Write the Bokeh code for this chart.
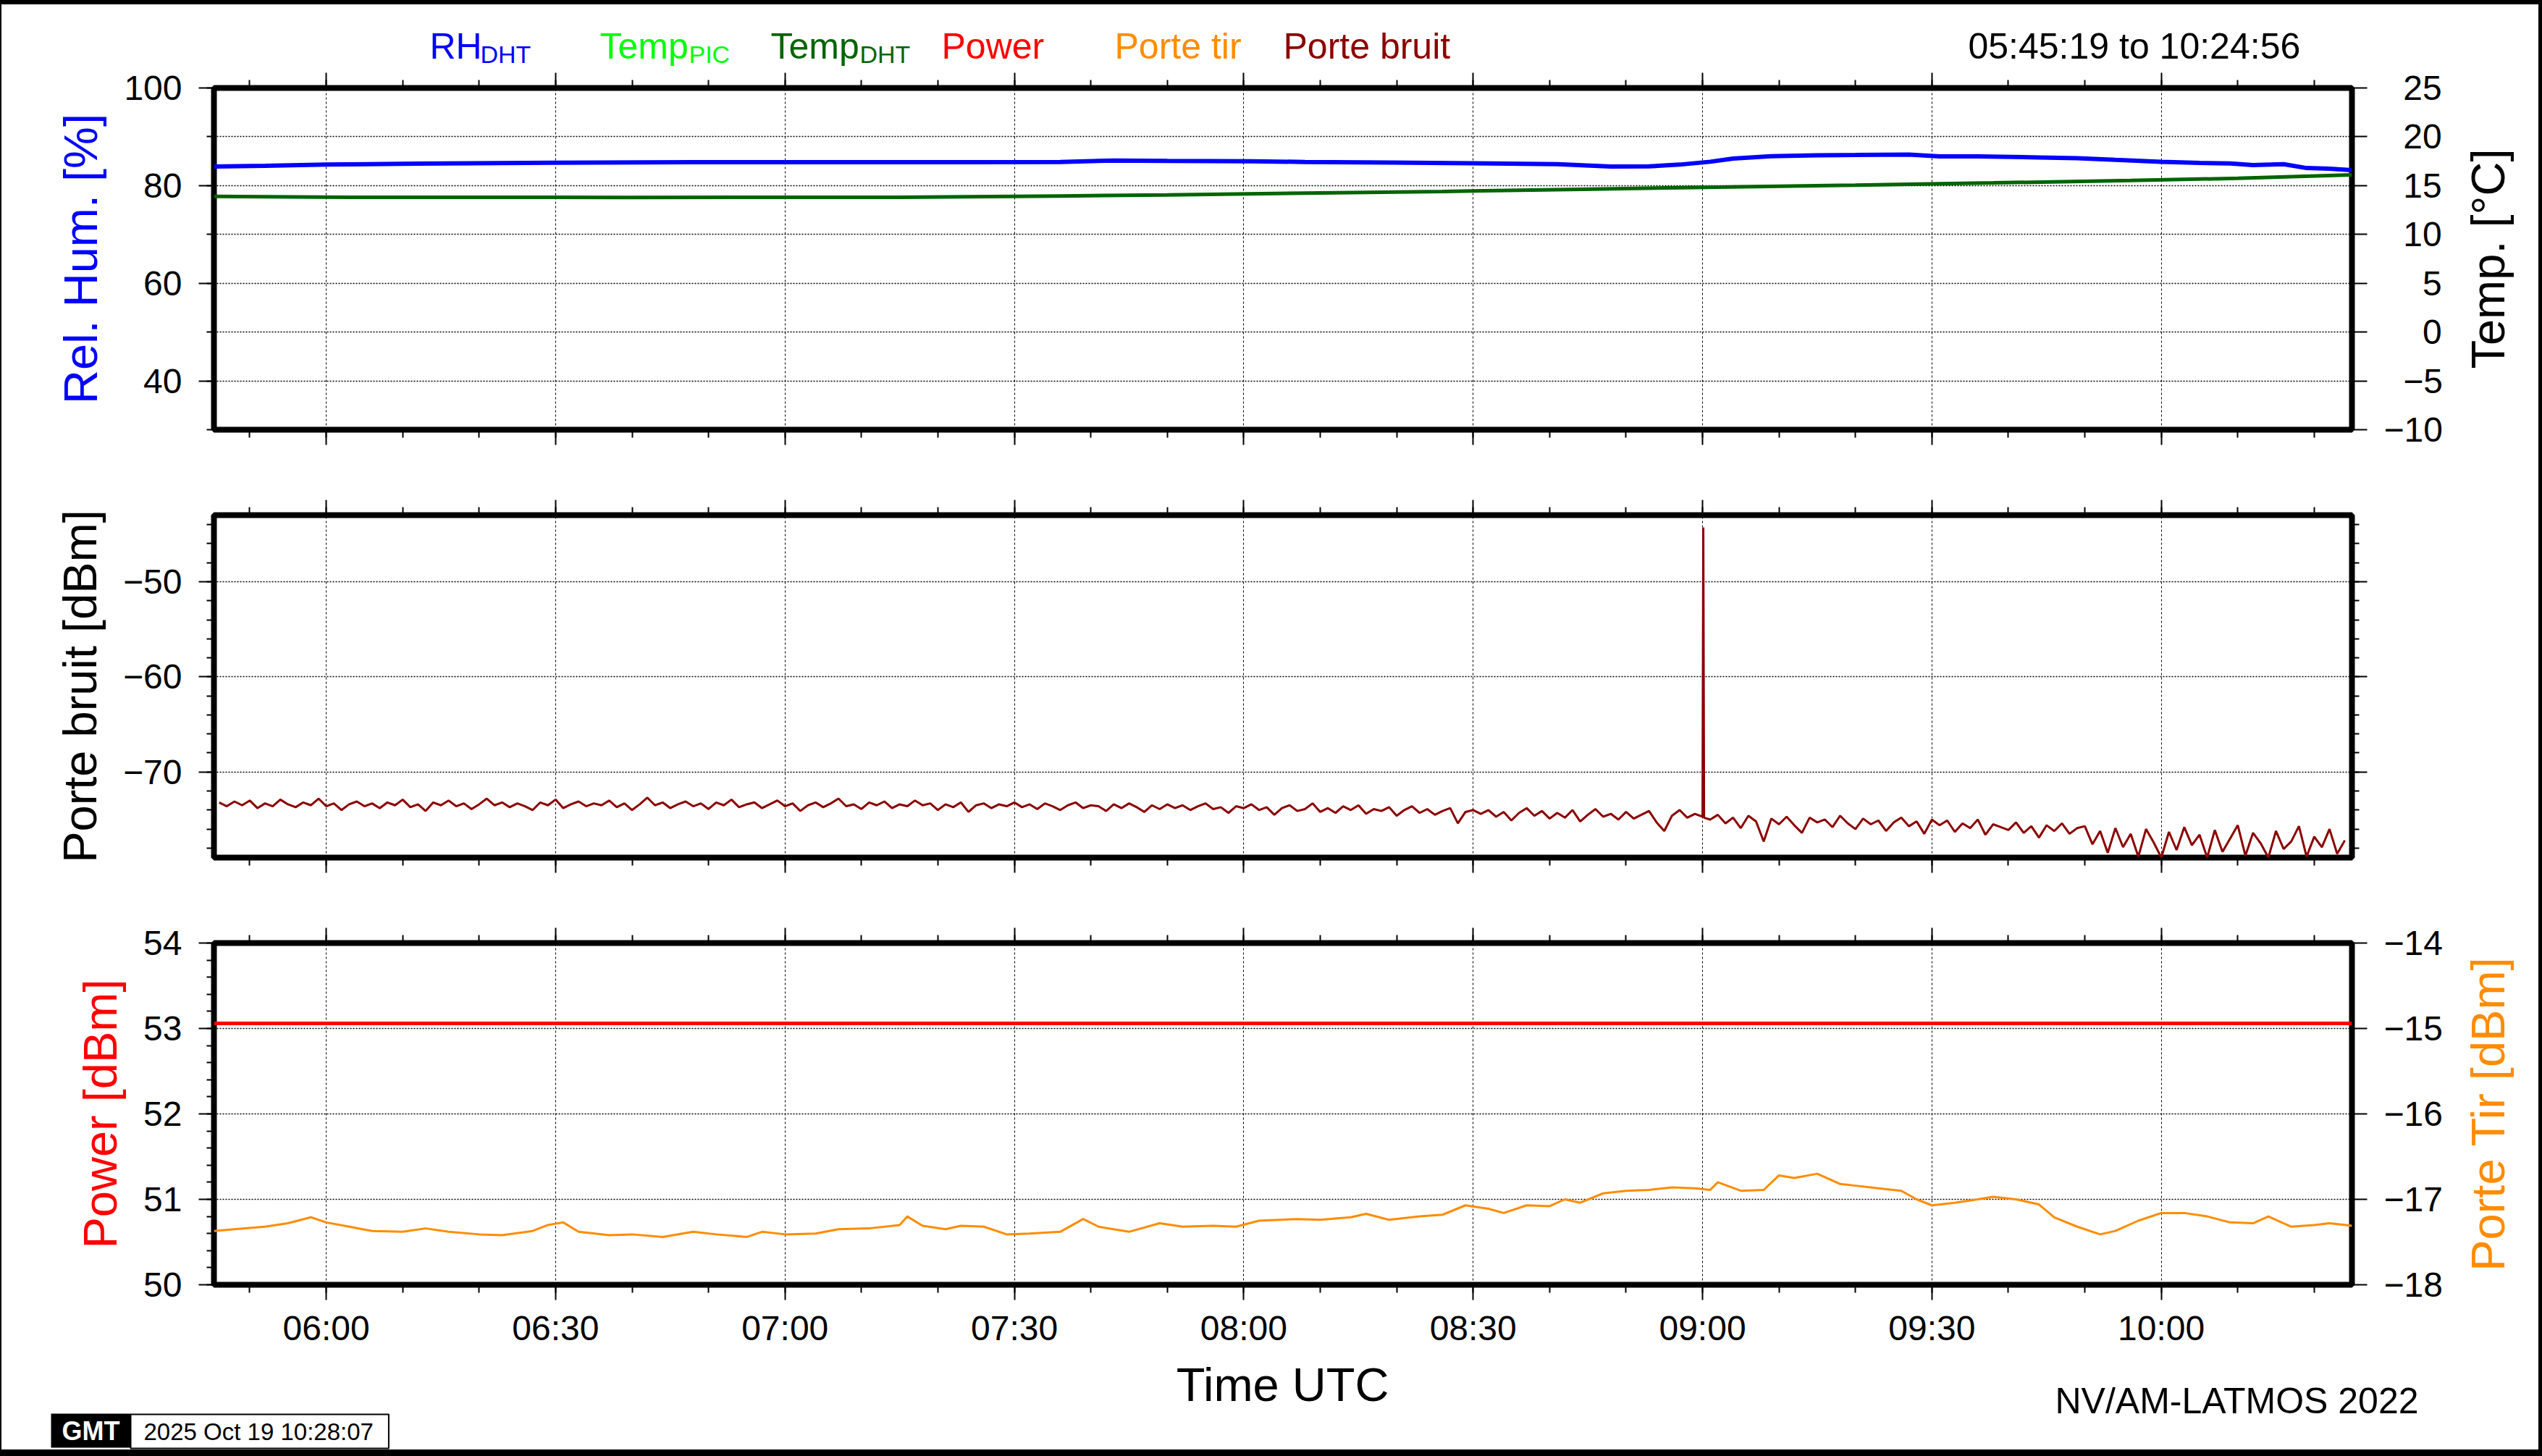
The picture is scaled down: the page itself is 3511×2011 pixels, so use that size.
import math
import pandas as pd
from bokeh.plotting import figure
from bokeh.layouts import column, row
from bokeh.models import (Range1d, LinearAxis, DatetimeAxis, FixedTicker,
                          SingleIntervalTicker, CustomJSTickFormatter,
                          DatetimeTickFormatter, Label, Spacer)
from bokeh.embed import file_html
from bokeh.resources import INLINE

# ---------------- data ----------------
DAY = "2025-10-19"
START = "05:45:19"
END = "10:24:56"

x_tick_labels = ["06:00", "06:30", "07:00", "07:30", "08:00",
                 "08:30", "09:00", "09:30", "10:00"]

rh_times = ["05:45:19", "05:52", "06:00", "06:12", "06:30", "06:48", "07:06", "07:24",
            "07:36", "07:43", "07:50", "08:01", "08:08", "08:19", "08:30", "08:41",
            "08:48", "08:53", "08:57", "09:01", "09:04", "09:09", "09:15", "09:20",
            "09:27", "09:31", "09:36", "09:44", "09:49", "09:54", "10:00", "10:05",
            "10:09", "10:12", "10:16", "10:19", "10:22", "10:24:56"]
rh_values = [83.90, 84.05, 84.30, 84.49, 84.69, 84.79, 84.79, 84.79,
             84.84, 85.14, 85.04, 85.00, 84.84, 84.74, 84.59, 84.40,
             83.90, 83.95, 84.30, 84.89, 85.53, 86.02, 86.22, 86.27,
             86.37, 85.98, 85.98, 85.78, 85.63, 85.28, 84.89, 84.64,
             84.54, 84.20, 84.40, 83.60, 83.46, 83.16]

tdht_times = ["05:45:19", "06:03", "06:39", "07:15", "07:36", "07:50", "08:08", "08:26",
              "08:44", "09:02", "09:20", "09:38", "09:56", "10:10", "10:24:56"]
tdht_values = [13.89, 13.81, 13.79, 13.81, 13.94, 14.04, 14.23, 14.40,
               14.62, 14.85, 15.05, 15.28, 15.52, 15.75, 16.11]

power_times = [START, END]
power_values = [53.06, 53.06]

tir_times = ["05:45:19", "05:48", "05:52", "05:55", "05:58", "06:00", "06:03", "06:06",
             "06:10", "06:13", "06:16", "06:20", "06:23", "06:27", "06:29", "06:31",
             "06:33", "06:37", "06:40", "06:44", "06:48", "06:51", "06:55", "06:57",
             "07:00", "07:04", "07:07", "07:11", "07:15", "07:16", "07:18", "07:21",
             "07:23", "07:26", "07:29", "07:32", "07:36", "07:39", "07:41", "07:45",
             "07:49", "07:52", "07:56", "07:59", "08:02", "08:07", "08:10", "08:14",
             "08:16", "08:19", "08:23", "08:26", "08:29", "08:32", "08:34", "08:37",
             "08:40", "08:42", "08:44", "08:47", "08:50", "08:53", "08:56", "08:59",
             "09:01", "09:02", "09:05", "09:08", "09:10", "09:12", "09:15", "09:18",
             "09:20", "09:23", "09:26", "09:28", "09:30", "09:33", "09:36", "09:38",
             "09:41", "09:44", "09:46", "09:49", "09:52", "09:54", "09:57", "10:00",
             "10:03", "10:06", "10:09", "10:12", "10:14", "10:17", "10:20", "10:22",
             "10:24:56"]
tir_values = [-17.37, -17.35, -17.32, -17.28, -17.21, -17.27, -17.32, -17.37,
              -17.38, -17.34, -17.38, -17.41, -17.42, -17.37, -17.30, -17.27,
              -17.38, -17.42, -17.41, -17.44, -17.38, -17.41, -17.44, -17.38,
              -17.41, -17.40, -17.35, -17.34, -17.30, -17.20, -17.31, -17.35,
              -17.31, -17.32, -17.41, -17.40, -17.38, -17.23, -17.32, -17.38,
              -17.28, -17.32, -17.31, -17.32, -17.25, -17.23, -17.24, -17.21,
              -17.17, -17.24, -17.20, -17.18, -17.07, -17.11, -17.16, -17.07,
              -17.08, -17.00, -17.04, -16.93, -16.90, -16.89, -16.86, -16.87,
              -16.89, -16.80, -16.90, -16.89, -16.72, -16.75, -16.70, -16.82,
              -16.84, -16.87, -16.90, -17.00, -17.07, -17.04, -17.00, -16.97,
              -17.00, -17.06, -17.21, -17.32, -17.41, -17.37, -17.25, -17.16,
              -17.16, -17.20, -17.27, -17.28, -17.20, -17.32, -17.30, -17.28,
              -17.31]

# Porte bruit: one reading per minute from 05:46
bruit_start = "05:46"
bruit_values = [
    -73.2, -73.6, -73.1, -73.5, -73.0, -73.8, -73.3, -73.6, -72.9, -73.4,
    -73.7, -73.2, -73.5, -72.8, -73.6, -73.3, -74.0, -73.4, -73.1, -73.6,
    -73.3, -73.8, -73.2, -73.5, -72.9, -73.7, -73.4, -74.1, -73.2, -73.5,
    -73.0, -73.6, -73.3, -73.9, -73.4, -72.8, -73.5, -73.2, -73.7, -73.3,
    -73.6, -74.0, -73.2, -73.5, -72.9, -73.8, -73.4, -73.1, -73.6, -73.3,
    -73.5, -73.0, -73.7, -73.3, -74.0, -73.4, -72.7, -73.5, -73.2, -73.8,
    -73.4, -73.1, -73.6, -73.3, -73.9, -73.2, -73.5, -72.9, -73.7, -73.4,
    -73.2, -73.8, -73.4, -73.0, -73.6, -73.3, -74.1, -73.5, -73.2, -73.7,
    -73.3, -72.8, -73.6, -73.4, -73.9, -73.2, -73.5, -73.1, -73.8, -73.4,
    -73.6, -73.0, -73.5, -73.3, -74.0, -73.4, -73.7, -73.2, -74.2, -73.5,
    -73.3, -73.8, -73.4, -73.6, -73.2,
    -73.7, -73.4, -73.9, -73.3, -73.6, -74.0, -73.5, -73.2, -73.8, -73.5,
    -73.6, -74.1, -73.4, -73.8, -73.3, -73.7, -74.2, -73.5, -73.9, -73.4,
    -73.8, -73.5, -74.0, -73.6, -73.3, -73.9, -73.7, -74.3, -73.6, -73.8,
    -73.4, -74.0, -73.7, -74.5, -73.8, -73.5, -74.1, -73.9, -73.3, -74.2,
    -73.8, -74.3, -73.6, -74.0, -73.5, -74.4, -73.9, -74.1, -73.7, -74.6,
    -74.0, -73.6, -74.3, -73.9, -74.5, -74.1, -73.8, -75.4, -74.2, -74.0,
    -74.4, -74.0, -74.7, -74.2, -75.1, -74.3, -73.8, -74.6, -74.1, -74.9,
    -74.3, -74.8, -74.0, -75.2, -74.5, -73.9, -74.7, -74.4, -75.0, -74.2,
    -74.9, -74.5, -74.1, -75.3, -76.2, -74.6, -74.0, -74.8, -74.4, -74.7,
    -75.0, -74.5, -75.4, -74.8, -75.9, -74.6, -75.2, -77.3, -74.9, -75.5,
    -74.7, -75.6, -76.4, -74.8, -75.3, -75.0, -75.8, -74.6, -75.4, -76.0,
    -74.9, -75.5, -75.1, -76.2, -75.3, -74.8, -75.7, -75.2, -76.5, -75.0,
    -75.6, -75.1, -76.3, -75.4, -75.9, -75.0, -76.6, -75.5, -75.8, -76.1,
    -75.3, -76.4, -75.7, -76.9, -75.6, -76.2, -75.4, -76.5, -75.9, -75.7,
    -77.6, -76.2, -78.5, -75.9, -77.9, -76.5, -78.9, -76.0, -77.4, -79.0,
    -76.3, -78.2, -75.8, -77.7, -76.6, -79.0, -76.1, -78.4, -77.0, -75.6,
    -78.8, -76.4, -77.5, -79.0, -76.2, -78.1, -77.3, -75.7, -78.9, -76.8,
    -77.9, -76.0, -78.6, -77.2]
bruit_spike_times = ["09:00:06", "09:00:12"]
bruit_spike_values = [-44.3, -74.8]

legend_names = ["RH", "Temp", "Temp", "Power", "Porte tir", "Porte bruit"]
legend_subs = ["DHT", "PIC", "DHT", "", "", ""]

# ---------------- styling / geometry ----------------
FONT = "Liberation Sans"
C_RH, C_PIC, C_DHT = "#0000FF", "#00FF00", "#006400"
C_POW, C_TIR, C_BRUIT = "#FF0000", "#FF8C00", "#8B0000"
legend_colors = [C_RH, C_PIC, C_DHT, C_POW, C_TIR, C_BRUIT]
legend_x = [591, 826, 1062, 1298, 1537, 1770]
legend_sub_dx = [70, 123, 123, 0, 0, 0]

IW = 3504            # inner width (inside the black page frame)
ML = 293             # left border of every panel
FRAME_R = 3246       # right edge of the panel frames (inner coords)
SPLIT = 3388         # width of panels that have a title column on the right
SIDE_W = IW - SPLIT
FH = 472


def T(s):
    if s.count(":") == 1:
        s += ":00"
    return pd.Timestamp(f"{DAY} {s}")


def TT(lst):
    return pd.to_datetime([T(s) for s in lst])


def ms(ts):
    return ts.value / 1e6


maj_ms = [ms(T(s)) for s in x_tick_labels]
minor_ms = []
t = T("05:50")
while t <= T(END):
    minor_ms.append(ms(t))
    t += pd.Timedelta(minutes=10)

xr = Range1d(T(START), T(END))
minus_code = "return String(tick).replace('-', '\u2212')"
# right-aligned labels (figure-space padding) for the temperature axis
padded_code = """
const neg = tick < 0;
const s = String(Math.abs(tick));
const pad = Math.max(0, 3 - s.length - (neg ? 1 : 0));
return '\\u2007'.repeat(pad) + (neg ? '\\u2212' : '') + s;
"""


def no_align(p):
    try:
        p.frame_align = False
    except AttributeError:
        pass


def make_fig(w, h, top, bottom, y0, y1):
    p = figure(width=w, height=h, x_range=xr, y_range=Range1d(y0, y1),
               x_axis_type="datetime", output_backend="svg", toolbar_location=None,
               min_border_left=ML, min_border_right=w - FRAME_R,
               min_border_top=top, min_border_bottom=bottom)
    no_align(p)
    p.title.visible = False
    p.outline_line_color = "black"
    p.outline_line_width = 8
    p.background_fill_color = "white"
    p.border_fill_color = "white"
    p.xgrid.ticker = FixedTicker(ticks=maj_ms)
    p.xgrid.grid_line_color = "black"
    p.xgrid.grid_line_dash = "3 3"
    p.xgrid.grid_line_width = 1
    p.ygrid.grid_line_color = "black"
    p.ygrid.grid_line_dash = "2 2"
    p.ygrid.grid_line_width = 1.5
    return p


def canvas_fig(w, h):
    p = figure(width=w, height=h, x_range=Range1d(0, w), y_range=Range1d(0, h),
               output_backend="svg", toolbar_location=None, min_border=0,
               x_axis_location=None, y_axis_location=None)
    no_align(p)
    p.min_border_left = p.min_border_right = p.min_border_top = p.min_border_bottom = 0
    p.title.visible = False
    p.outline_line_color = None
    p.grid.visible = False
    p.background_fill_color = "white"
    p.border_fill_color = "white"
    return p


def style_axis(ax, major_out, minor_out, labels=True, standoff=23):
    ax.axis_line_color = None
    ax.major_tick_in = 0
    ax.minor_tick_in = 0
    ax.major_tick_out = major_out
    ax.minor_tick_out = minor_out
    ax.major_tick_line_width = 2
    ax.minor_tick_line_width = 2
    ax.major_tick_line_color = "black"
    ax.minor_tick_line_color = "black"
    ax.major_label_text_font = FONT
    ax.major_label_text_font_size = "48px"
    ax.major_label_text_color = "black"
    ax.axis_label_text_font = FONT
    ax.axis_label_text_font_size = "65px"
    ax.axis_label_text_font_style = "normal"
    ax.axis_label_standoff = 20
    if labels:
        ax.major_label_standoff = standoff
    else:
        ax.formatter = CustomJSTickFormatter(code="return ''")
        ax.major_label_text_font_size = "0px"
        ax.major_label_standoff = 0


def x_ticker():
    return FixedTicker(ticks=maj_ms, minor_ticks=minor_ms)


def add_x_axes(p, bottom_labels=False):
    xb = p.xaxis[0]
    xb.ticker = x_ticker()
    style_axis(xb, 21, 11, labels=bottom_labels, standoff=12)
    xa = DatetimeAxis(ticker=x_ticker())
    style_axis(xa, 21, 11, labels=False)
    p.add_layout(xa, "above")
    return xb


def label(p, x, y, text, size, color="black", angle=0.0, align="left",
          style="normal", **kw):
    # y is the vertical centre of the text box, from the bottom of the canvas
    p.add_layout(Label(x=x, y=y, x_units="screen", y_units="screen", text=text,
                       angle=angle, text_font=FONT, text_font_size=f"{size}px",
                       text_color=color, text_align=align, text_baseline="middle",
                       text_font_style=style, **kw))


# ---------------- header : legend + time span ----------------
H0 = 88
p0 = canvas_fig(IW, H0)
for name, sub, col, lx, sdx in zip(legend_names, legend_subs, legend_colors, legend_x, legend_sub_dx):
    label(p0, lx, 30.5, name, 50, color=col)
    if sub:
        label(p0, lx + sdx, 20, sub, 34, color=col)
label(p0, 2716, 30.5, f"{START} to {END}", 50)

# ---------------- panel 1 : RH / Temperature ----------------
H1 = 556
TOP1 = 27
p1 = make_fig(SPLIT, H1, TOP1, H1 - TOP1 - FH, 30, 100)
p1.extra_y_ranges = {"temp": Range1d(-10, 25)}
ly = p1.yaxis[0]
ly.ticker = SingleIntervalTicker(interval=20, num_minor_ticks=2)
style_axis(ly, 21, 10)
ly.formatter = CustomJSTickFormatter(code=minus_code)
ly.axis_label = "Rel. Hum. [%]"
ly.axis_label_text_color = C_RH
ry = LinearAxis(y_range_name="temp", ticker=SingleIntervalTicker(interval=5, num_minor_ticks=0),
                formatter=CustomJSTickFormatter(code=padded_code))
style_axis(ry, 21, 0)
p1.add_layout(ry, "right")
add_x_axes(p1)
p1.ygrid.ticker = SingleIntervalTicker(interval=10)

p1.line(TT(rh_times), rh_values, line_color=C_RH, line_width=6)
p1.line(TT(tdht_times), tdht_values, line_color=C_DHT, line_width=5, y_range_name="temp")

p1r = canvas_fig(SIDE_W, H1)
label(p1r, 46, H1 - TOP1 - FH / 2, "Temp. [°C]", 65, angle=math.pi / 2, align="center")

# ---------------- panel 2 : Porte bruit ----------------
H2 = 591
p2 = make_fig(IW, H2, 61, H2 - 61 - 473, -79, -43)
ly2 = p2.yaxis[0]
ly2.ticker = SingleIntervalTicker(interval=10, num_minor_ticks=5)
style_axis(ly2, 21, 10)
ly2.formatter = CustomJSTickFormatter(code=minus_code)
ly2.axis_label = "Porte bruit [dBm]"
ly2.axis_label_text_color = "black"
ry2 = LinearAxis(ticker=SingleIntervalTicker(interval=10, num_minor_ticks=5))
style_axis(ry2, 21, 10, labels=False)
p2.add_layout(ry2, "right")
add_x_axes(p2)
p2.ygrid.ticker = SingleIntervalTicker(interval=10)

bt = pd.date_range(T(bruit_start), periods=len(bruit_values), freq="1min")
bdf = pd.DataFrame({"t": list(bt) + list(TT(bruit_spike_times)),
                    "v": bruit_values + bruit_spike_values}).sort_values("t")
p2.line(bdf["t"], bdf["v"], line_color=C_BRUIT, line_width=3)

# ---------------- panel 3 : Power / Porte tir ----------------
H3 = 623
p3 = make_fig(SPLIT, H3, 61, H3 - 61 - FH, 50, 54)
p3.extra_y_ranges = {"tir": Range1d(-18, -14)}
ly3 = p3.yaxis[0]
ly3.ticker = SingleIntervalTicker(interval=1, num_minor_ticks=5)
style_axis(ly3, 21, 10)
ly3.formatter = CustomJSTickFormatter(code=minus_code)
ly3.axis_label = "Power [dBm]"
ly3.axis_label_text_color = C_POW
ry3 = LinearAxis(y_range_name="tir", ticker=SingleIntervalTicker(interval=1, num_minor_ticks=0),
                 formatter=CustomJSTickFormatter(code=minus_code))
style_axis(ry3, 21, 0)
p3.add_layout(ry3, "right")
xb3 = add_x_axes(p3, bottom_labels=True)
xb3.formatter = DatetimeTickFormatter(minsec="%H:%M", minutes="%H:%M", hourmin="%H:%M",
                                      hours="%H:%M", strip_leading_zeros=False)
p3.ygrid.ticker = SingleIntervalTicker(interval=1)

p3.line(TT(power_times), power_values, line_color=C_POW, line_width=5)
p3.line(TT(tir_times), tir_values, line_color=C_TIR, line_width=3, y_range_name="tir")

p3r = canvas_fig(SIDE_W, H3)
label(p3r, 46, H3 - 61 - FH / 2, "Porte Tir [dBm]", 65, color=C_TIR, angle=math.pi / 2,
      align="center")

# ---------------- footer ----------------
H4 = 1996 - H0 - H1 - H2 - H3
p4 = canvas_fig(IW, H4)
label(p4, 1769, 90.5, "Time UTC", 65, align="center")
label(p4, 2836, 67.3, "NV/AM-LATMOS 2022", 50)
label(p4, 68, 26.5, "GMT", 36, color="white", style="bold",
      background_fill_color="black",
      padding=dict(left=15, right=15, top=3, bottom=3))
label(p4, 178, 25.4, "2025 Oct 19 10:28:07", 33,
      background_fill_color="white", border_line_color="black", border_line_width=2,
      padding=dict(left=18, right=21, top=5, bottom=5))

# ---------------- assemble with the black page frame ----------------
BK = {"background-color": "black"}
inner = column(p0, row(p1, p1r), p2, row(p3, p3r), p4)
layout = column(
    Spacer(width=3511, height=6, styles=BK),
    row(Spacer(width=2, height=1996, styles=BK), inner, Spacer(width=5, height=1996, styles=BK)),
    Spacer(width=3511, height=9, styles=BK),
)

with open("out.html", "w") as f:
    f.write(file_html(layout, INLINE))
